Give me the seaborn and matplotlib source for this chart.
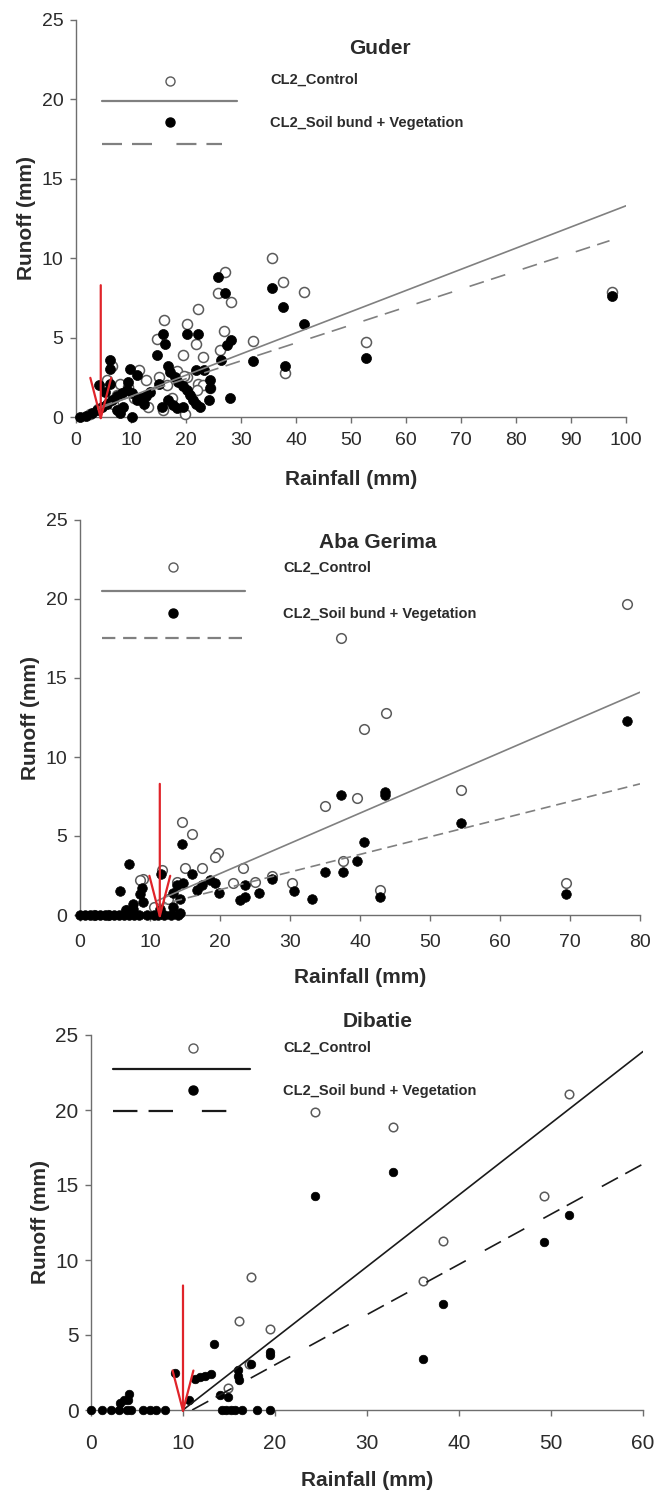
import numpy as np
import pandas as pd
import matplotlib
matplotlib.use("Agg")
import matplotlib.pyplot as plt
import seaborn as sns

# ---------------- data ----------------
# Guder
guder_ctrl_x = [35.6, 37.7, 41.5, 27.1, 25.9, 28.2, 22.2, 16.0, 20.1, 14.7, 21.8, 26.9, 32.1, 19.5, 23.1,
                38.0, 26.2, 15.0, 11.5, 12.8, 8.0, 20.1, 22.2, 24.4, 17.4, 13.0, 15.9, 19.8, 6.5, 5.6,
                52.7, 97.5, 18.4, 19.6, 23.1, 22.0, 9.5, 7.5, 4.0, 2.5, 10.5, 16.5, 6.8]
guder_ctrl_y = [10.0, 8.5, 7.9, 9.1, 7.8, 7.25, 6.8, 6.1, 5.85, 4.9, 4.6, 5.4, 4.8, 3.9, 3.8,
                2.75, 4.25, 2.5, 2.95, 2.3, 2.1, 2.5, 2.1, 1.8, 1.2, 0.65, 0.45, 0.2, 3.2, 2.3,
                4.7, 7.9, 2.9, 2.6, 2.0, 1.7, 1.9, 1.4, 0.5, 0.2, 1.2, 2.0, 0.8]
guder_trt_x = [25.8, 27.1, 35.6, 37.7, 38.0, 32.1, 41.5, 52.7, 97.5,
               15.8, 16.1, 14.7, 20.2, 22.2, 28.1, 27.4, 26.4, 16.7, 21.9, 23.3, 24.4, 24.3, 24.2, 28.0, 15.0,
               17.1, 18.0, 18.6, 19.5, 20.1, 20.7, 21.3, 21.9, 22.5,
               15.6, 16.8, 17.7, 18.3, 19.5,
               0.7, 1.9, 2.9, 3.8, 4.7, 5.6, 6.5, 7.4, 8.3, 9.2, 10.1, 11.0, 11.9, 7.4, 8.6, 10.1, 5.3, 4.1, 6.2, 8.0,
               6.2, 6.2, 9.8, 11.0, 9.5, 12.7, 12.4, 13.4]
guder_trt_y = [8.8, 7.8, 8.1, 6.9, 3.2, 3.5, 5.85, 3.7, 7.6,
               5.2, 4.6, 3.9, 5.2, 5.25, 4.85, 4.55, 3.6, 3.2, 2.95, 2.95, 2.3, 1.8, 1.05, 1.2, 2.1,
               2.85, 2.55, 2.2, 1.95, 1.7, 1.4, 1.1, 0.85, 0.65,
               0.65, 1.05, 0.75, 0.55, 0.65,
               0.0, 0.05, 0.25, 0.45, 0.65, 0.85, 1.05, 1.3, 1.5, 1.7, 1.5, 1.05, 1.2, 0.45, 0.65, 0.0, 1.6, 2.0, 2.1, 0.25,
               3.6, 3.05, 3.05, 2.65, 2.2, 1.3, 0.85, 1.55]
guder_fit_x = [4.0, 100.0]
guder_fit_ctrl = [0.5, 13.3]
guder_fit_trt_x = [4.0, 97.0]
guder_fit_trt = [0.6, 11.1]
guder_arrow_x = 4.5

# Aba Gerima
aba_ctrl_x = [78.2, 37.3, 43.7, 40.5, 54.4, 35.0, 39.6, 37.6, 42.8, 69.4, 14.5, 15.95, 19.75, 19.3, 23.3,
              27.4, 30.3, 17.4, 15.0, 9.0, 8.6, 11.7, 21.9, 25.0, 13.9, 12.5, 10.5, 6.5, 4.0, 2.0]
aba_ctrl_y = [19.7, 17.55, 12.8, 11.8, 7.9, 6.9, 7.4, 3.4, 1.6, 2.05, 5.9, 5.1, 3.9, 3.7, 3.0,
              2.5, 2.0, 3.0, 3.0, 2.3, 2.2, 2.85, 2.0, 2.1, 2.1, 1.0, 0.5, 0.3, 0.0, 0.0]
aba_trt_x = [78.2, 37.3, 43.6, 43.6, 40.5, 54.4, 35.0, 37.6, 39.6, 42.8, 69.4, 33.1,
             7.05, 14.5, 11.6, 16.0, 5.7, 8.8, 8.6, 7.5, 9.0, 13.3, 13.8, 14.7, 14.3, 14.3, 13.3, 16.7, 17.4,
             18.6, 19.3, 19.8, 22.9, 23.6, 23.6, 25.5, 27.4, 30.5, 11.4,
             0.0, 0.7, 1.4, 2.1, 2.8, 3.5, 4.2, 4.9, 5.6, 6.3, 7.0, 7.7, 8.4, 9.5, 10.5, 11.2, 12.0, 13.0, 14.0,
             6.5, 7.5]
aba_trt_y = [12.3, 7.6, 7.8, 7.6, 4.65, 5.8, 2.75, 2.7, 3.4, 1.15, 1.3, 1.0,
             3.2, 4.5, 2.6, 2.6, 1.5, 1.7, 1.3, 0.7, 0.8, 1.4, 1.9, 2.0, 1.0, 0.1, 0.5, 1.6, 1.9,
             2.2, 2.0, 1.4, 0.95, 1.15, 1.9, 1.4, 2.25, 1.5, 0.4,
             0.0, 0.0, 0.0, 0.0, 0.0, 0.0, 0.0, 0.0, 0.0, 0.0, 0.0, 0.0, 0.0, 0.0, 0.0, 0.0, 0.0, 0.0, 0.0,
             0.3, 0.4]
aba_fit_x = [11.0, 80.0]
aba_fit_ctrl = [0.9, 14.1]
aba_fit_trt = [0.6, 8.3]
aba_arrow_x = 11.4

# Dibatie
dib_ctrl_x = [24.35, 32.8, 52.0, 49.2, 38.3, 36.1, 17.4, 16.1, 19.5, 14.9, 17.2]
dib_ctrl_y = [19.85, 18.85, 21.05, 14.3, 11.3, 8.6, 8.9, 5.95, 5.4, 1.45, 3.1]
dib_trt_x = [24.35, 32.8, 52.0, 49.2, 38.3, 36.1, 13.4, 19.5, 19.5, 9.1, 11.3, 11.9, 12.4, 13.0, 16.0,
             17.4, 16.1, 16.0, 14.0, 14.9, 10.6, 4.1, 3.6, 4.0, 3.2,
             0.0, 1.2, 2.2, 3.0, 3.9, 4.4, 5.7, 6.4, 7.1, 8.0, 14.2, 14.7, 15.2, 15.7, 16.4, 18.0, 19.5]
dib_trt_y = [14.3, 15.9, 13.0, 11.2, 7.05, 3.4, 4.4, 3.9, 3.7, 2.45, 2.1, 2.2, 2.3, 2.4, 2.65,
             3.05, 2.0, 2.3, 1.0, 0.85, 0.65, 1.1, 0.65, 0.7, 0.45,
             0.0, 0.0, 0.0, 0.0, 0.0, 0.0, 0.0, 0.0, 0.0, 0.0, 0.0, 0.0, 0.0, 0.0, 0.0, 0.0, 0.0]
dib_fit_ctrl_x = [10.0, 60.0]
dib_fit_ctrl = [0.0, 23.9]
dib_fit_trt_x = [11.0, 60.0]
dib_fit_trt = [0.0, 16.4]
dib_arrow_x = 10.0

legend_labels = ["CL2_Control", "CL2_Soil bund + Vegetation"]
sites = ["Guder", "Aba Gerima", "Dibatie"]
xlabel = "Rainfall (mm)"
ylabel = "Runoff (mm)"

# ---------------- style ----------------
sns.set_style("ticks")
plt.rcParams["font.family"] = ["Liberation Sans", "DejaVu Sans"]

fig = plt.figure(figsize=(6.57, 14.99), dpi=100)

panels = [
    dict(rect=[76/657, 1-417/1499, 550/657, 397/1499], xmax=100, xticks=np.arange(0, 101, 10),
         cx=guder_ctrl_x, cy=guder_ctrl_y, tx=guder_trt_x, ty=guder_trt_y,
         fcx=guder_fit_x, fcy=guder_fit_ctrl, ftx=guder_fit_trt_x, fty=guder_fit_trt,
         arrow=guder_arrow_x, line_color="#808080", dash=(9, 4.5, 9, 11), s=52,
         leg=dict(mo=(0.171, 0.846), lc=(0.047, 0.293, 0.796), mf=(0.171, 0.743), ld=(0.047, 0.265, 0.688),
                  tx=0.353, ty=(0.849, 0.741)),
         title_xy=(0.553, 0.929), xpad=7, xlabelpad=15, tsize=14),
    dict(rect=[80/657, 1-915/1499, 560/657, 395/1499], xmax=80, xticks=np.arange(0, 81, 10),
         cx=aba_ctrl_x, cy=aba_ctrl_y, tx=aba_trt_x, ty=aba_trt_y,
         fcx=aba_fit_x, fcy=aba_fit_ctrl, ftx=aba_fit_x, fty=aba_fit_trt,
         arrow=aba_arrow_x, line_color="#808080", dash=(6, 3.5), s=48,
         leg=dict(mo=(0.166, 0.881), lc=(0.039, 0.295, 0.820), mf=(0.166, 0.765), ld=(0.039, 0.295, 0.701),
                  tx=0.3625, ty=(0.878, 0.762)),
         title_xy=(0.532, 0.942), xpad=10, xlabelpad=12, tsize=14),
    dict(rect=[91/657, 1-1410/1499, 552/657, 375/1499], xmax=60, xticks=np.arange(0, 61, 10),
         cx=dib_ctrl_x, cy=dib_ctrl_y, tx=dib_trt_x, ty=dib_trt_y,
         fcx=dib_fit_ctrl_x, fcy=dib_fit_ctrl, ftx=dib_fit_trt_x, fty=dib_fit_trt,
         arrow=dib_arrow_x, line_color="#1a1a1a", dash=(11, 5, 11, 13), s=38,
         leg=dict(mo=(0.185, 0.965), lc=(0.04, 0.288, 0.909), mf=(0.185, 0.853), ld=(0.04, 0.257, 0.797),
                  tx=0.348, ty=(0.965, 0.851)),
         title_xy=(0.52, 1.035), xpad=13, xlabelpad=13, tsize=15),
]

axis_col = "#6e6e6e"
text_col = "#2b2b2b"

for site, p in zip(sites, panels):
    ax = fig.add_axes(p["rect"])
    ctrl = pd.DataFrame({"Rainfall": p["cx"], "Runoff": p["cy"]})
    trt = pd.DataFrame({"Rainfall": p["tx"], "Runoff": p["ty"]})
    sns.scatterplot(data=ctrl, x="Rainfall", y="Runoff", ax=ax, color="white", edgecolor="#5a5a5a",
                    linewidth=1.1, s=p["s"], clip_on=False, zorder=3)
    sns.scatterplot(data=trt, x="Rainfall", y="Runoff", ax=ax, color="black", edgecolor="black",
                    linewidth=0.5, s=p["s"], clip_on=False, zorder=4)
    sns.lineplot(x=p["fcx"], y=p["fcy"], ax=ax, color=p["line_color"], linewidth=1.2, zorder=5)
    sns.lineplot(x=p["ftx"], y=p["fty"], ax=ax, color=p["line_color"], linewidth=1.2, zorder=5)
    ax.lines[-1].set_dashes(p["dash"])

    # red arrow marking threshold rainfall
    ax.annotate("", xy=(p["arrow"], -0.35), xytext=(p["arrow"], 8.3),
                arrowprops=dict(arrowstyle="->,head_length=2.9,head_width=0.75", color="#e0242a",
                                lw=1.6, shrinkA=0, shrinkB=0), zorder=6, annotation_clip=False)

    ax.set_xlim(0, p["xmax"])
    ax.set_ylim(0, 25)
    ax.set_xticks(p["xticks"])
    ax.set_yticks(np.arange(0, 26, 5))
    for side in ["top", "right"]:
        ax.spines[side].set_visible(False)
    for side in ["left", "bottom"]:
        ax.spines[side].set_color(axis_col)
        ax.spines[side].set_linewidth(1.0)
    ax.tick_params(axis="both", direction="out", length=4, width=1, color=axis_col,
                   labelsize=p["tsize"], labelcolor=text_col)
    ax.tick_params(axis="x", pad=p["xpad"])
    ax.tick_params(axis="y", pad=5)
    ax.set_xlabel(xlabel, fontsize=15, fontweight="bold", color=text_col, labelpad=p["xlabelpad"])
    ax.set_ylabel(ylabel, fontsize=15, fontweight="bold", color=text_col, labelpad=4)
    ax.text(p["title_xy"][0], p["title_xy"][1], site, transform=ax.transAxes, ha="center", va="center",
            fontsize=15, fontweight="bold", color=text_col)

    # legend drawn in the chart's own style
    L = p["leg"]
    ax.plot([L["mo"][0]], [L["mo"][1]], transform=ax.transAxes, marker="o", ms=6.5, mfc="white",
            mec="#5a5a5a", mew=1.0, ls="none", clip_on=False)
    ax.plot([L["lc"][0], L["lc"][1]], [L["lc"][2]] * 2, transform=ax.transAxes, color=p["line_color"],
            lw=1.6, clip_on=False)
    ax.plot([L["mf"][0]], [L["mf"][1]], transform=ax.transAxes, marker="o", ms=6.5, mfc="black",
            mec="black", ls="none", clip_on=False)
    dl, = ax.plot([L["ld"][0], L["ld"][1]], [L["ld"][2]] * 2, transform=ax.transAxes, color=p["line_color"],
                  lw=1.6, clip_on=False)
    dl.set_dashes(p["dash"])
    for lab, yy in zip(legend_labels, L["ty"]):
        ax.text(L["tx"], yy, lab, transform=ax.transAxes, ha="left", va="center", fontsize=10.5,
                fontweight="bold", color=text_col)

fig.savefig("out.png", dpi=100, facecolor="white")
